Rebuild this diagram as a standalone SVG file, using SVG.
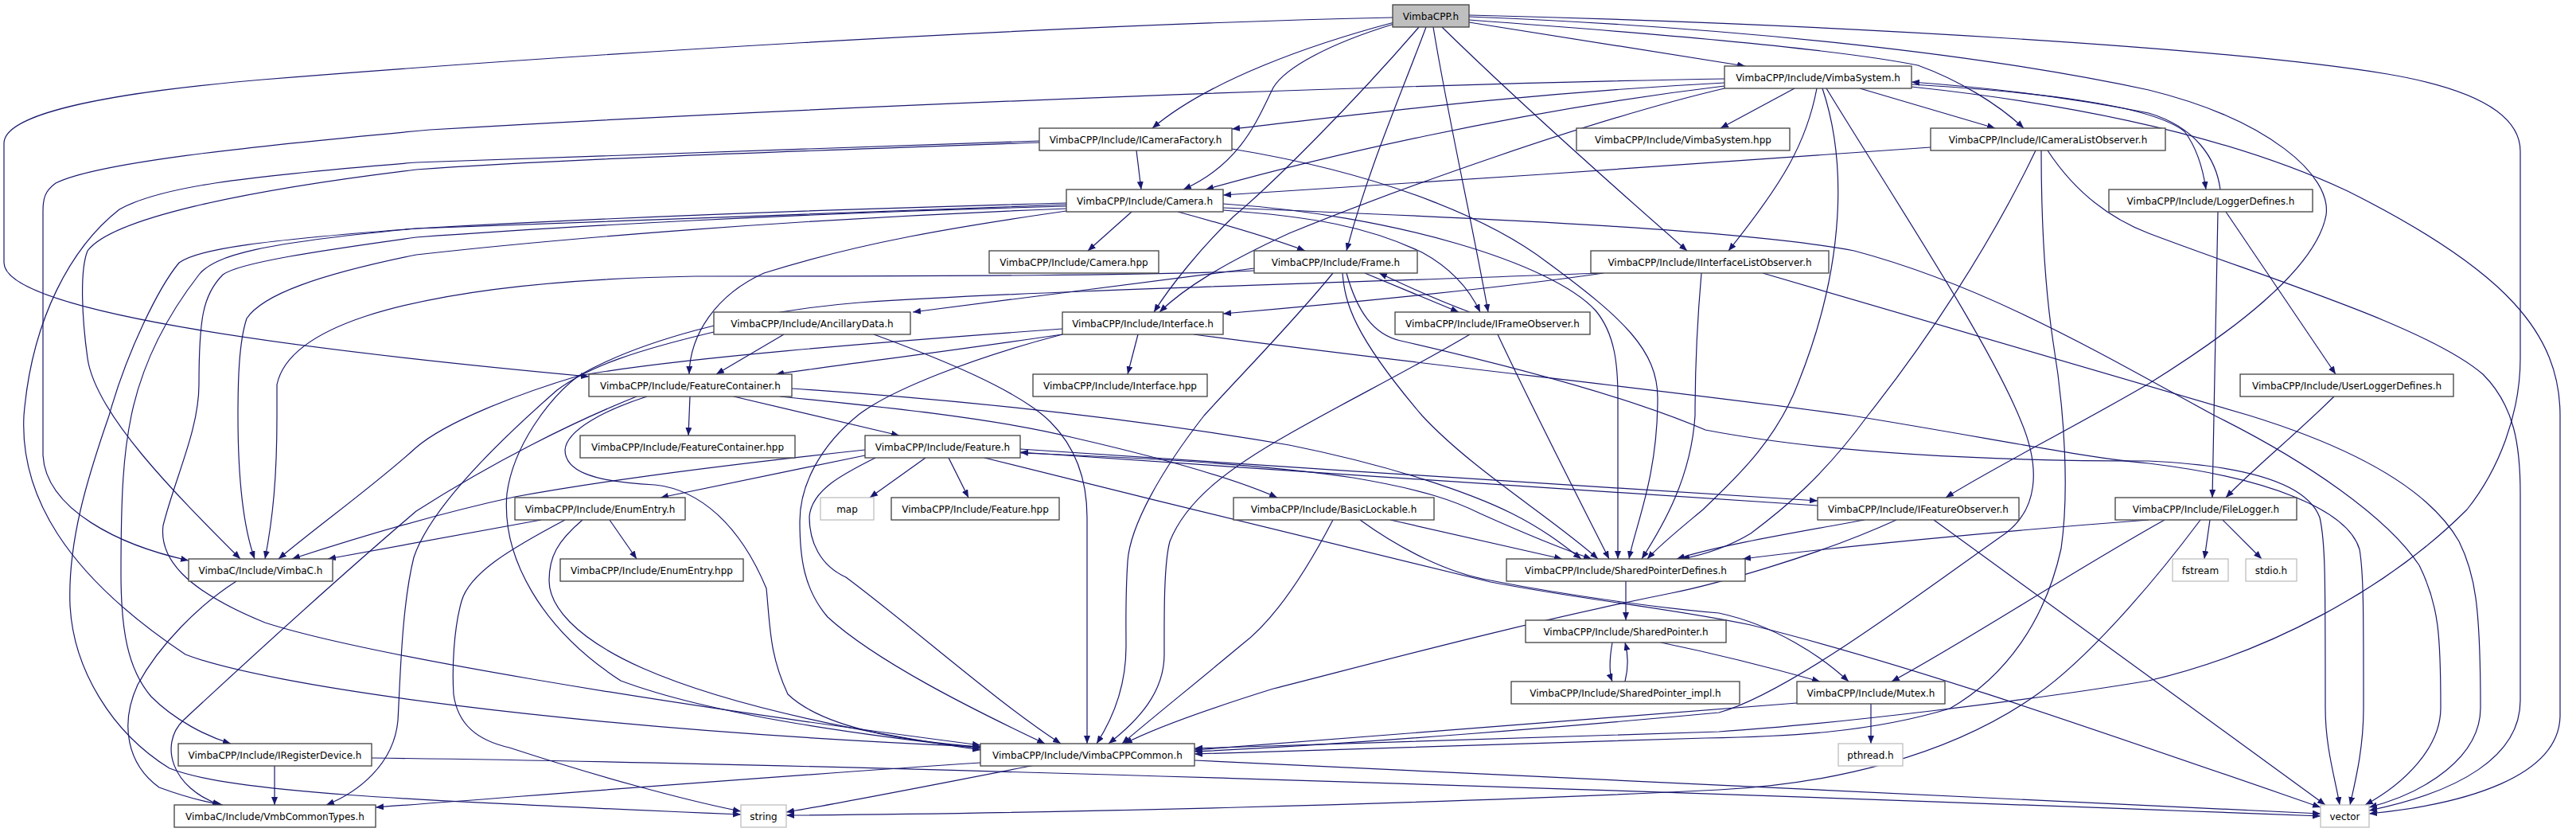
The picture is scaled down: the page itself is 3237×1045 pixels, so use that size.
<svg xmlns="http://www.w3.org/2000/svg" width="3237" height="1045" viewBox="0 0 3237 1045">
<style>
.e{fill:none;stroke:#191970;stroke-width:1.2;marker-end:url(#ah)}
.n rect{fill:#fff;stroke:#404040;stroke-width:1.3}
.x rect{fill:#fff;stroke:#bfbfbf;stroke-width:1.3}
.r rect{fill:#bfbfbf;stroke:#404040;stroke-width:1.3}
text{font-family:"DejaVu Sans","Liberation Sans",sans-serif;font-size:12px;fill:#000;text-anchor:middle}
</style>
<defs>
<marker id="ah" viewBox="0 0 10 8" refX="10" refY="4" markerWidth="10" markerHeight="8" orient="auto" markerUnits="userSpaceOnUse"><path d="M0,0L10,4L0,8z" fill="#191970"/></marker>
</defs>
<rect width="3237" height="1045" fill="#fff"/>
<g id="connectors">
<path class="e" d="M1750,22 C1300,32 700,70 330,100 C120,118 5,145 5,180 L5,330 C5,390 350,437 740,473"/>
<path class="e" d="M1752,28 C1650,55 1520,100 1448,161"/>
<path class="e" d="M1752,30 C1670,55 1615,85 1600,110 C1580,150 1560,205 1487,238"/>
<path class="e" d="M1783,34 C1700,130 1600,230 1550,272 C1510,310 1470,360 1450,392"/>
<path class="e" d="M1792,34 C1760,120 1720,210 1692,315"/>
<path class="e" d="M1801,34 C1820,150 1850,280 1870,392"/>
<path class="e" d="M1812,34 C1900,120 2000,210 2120,315"/>
<path class="e" d="M1846,28 L2193,83"/>
<path class="e" d="M1846,25 C2050,40 2300,60 2410,82 C2460,100 2510,130 2543,161"/>
<path class="e" d="M1846,21 C2200,35 2500,70 2700,113 C2850,150 2930,220 2923,270 C2910,340 2800,420 2700,482 C2600,540 2500,590 2445,625"/>
<path class="e" d="M1846,19 C2300,30 2800,60 3000,93 C3100,110 3167,140 3167,190 L3167,450 C3167,520 3140,590 3100,640 C3000,740 2850,820 2700,855 C2550,880 2300,910 2160,919 L1501,940"/>
<path class="e" d="M2167,99 C1800,105 1100,130 540,163 C300,185 120,205 70,230 C56,240 54,250 54,265 L54,572 C58,640 150,685 237,704"/>
<path class="e" d="M2167,104 C1900,118 1700,145 1548,162"/>
<path class="e" d="M2167,108 C1900,140 1650,200 1515,238"/>
<path class="e" d="M2167,111 C2000,150 1750,240 1620,293 C1540,330 1490,360 1457,392"/>
<path class="e" d="M2255,111 L2162,161"/>
<path class="e" d="M2283,111 C2270,180 2240,230 2172,315"/>
<path class="e" d="M2337,111 L2507,161"/>
<path class="e" d="M2402,106 C2550,115 2700,130 2745,165 C2760,185 2768,210 2772,238"/>
<path class="e" d="M2790,238 C2785,200 2760,160 2700,142 C2600,122 2500,110 2402,103"/>
<path class="e" d="M2402,109 C2600,130 2800,170 2950,240 C3150,340 3217,420 3217,522 L3217,900 C3215,975 3100,1010 2977,1022"/>
<path class="e" d="M2290,111 C2320,200 2320,330 2260,480 C2230,560 2170,610 2140,640 C2110,665 2085,685 2070,702"/>
<path class="e" d="M2295,111 C2380,250 2500,430 2540,530 C2565,590 2560,640 2520,670 C2420,740 2250,870 2160,895 C2000,910 1700,935 1501,944"/>
<path class="e" d="M1428,189 L1434,238"/>
<path class="e" d="M1306,177 C1000,186 700,196 523,204 C300,222 200,235 150,263 C90,310 40,400 30,522 C25,620 80,720 233,822 C330,860 700,915 1232,938"/>
<path class="e" d="M1306,179 C1000,190 700,200 523,213 C300,240 140,275 110,315 C100,340 103,400 110,450 C120,520 220,620 302,702"/>
<path class="e" d="M1548,187 C1750,220 1880,280 1945,330 C2040,400 2083,440 2083,500 C2083,600 2055,660 2047,702"/>
<path class="e" d="M1537,256 C1750,270 1950,330 2005,390 C2030,420 2033,460 2033,500 L2033,702"/>
<path class="e" d="M1537,261 C1900,275 2200,290 2330,315 C2500,360 2650,450 2783,522 C2900,580 3000,650 3040,710 C3065,760 3067,800 3067,889 C3067,940 3020,985 2972,1011"/>
<path class="e" d="M2573,189 C2600,230 2640,270 2700,293 C2850,350 3050,410 3120,470 C3160,510 3167,560 3167,620 L3167,880 C3167,950 3090,995 2977,1018"/>
<path class="e" d="M2215,343 C2450,410 2650,470 2827,522 C2950,560 3050,610 3090,680 C3110,720 3117,760 3117,889 C3117,950 3050,995 2977,1014"/>
<path class="e" d="M1692,343 C1705,390 1725,420 1760,428 C1900,460 2050,500 2143,540 C2300,570 2500,579 2700,579 C2830,585 2900,610 2915,650 C2922,680 2922,720 2922,889 C2922,940 2935,980 2940,1011"/>
<path class="e" d="M1500,420 C1800,460 2100,490 2327,522 C2500,550 2620,575 2700,582 C2850,600 2950,640 2965,690 C2970,720 2970,760 2970,889 C2970,940 2960,980 2953,1011"/>
<path class="e" d="M1237,575 C1450,628 1700,690 1873,731 C2000,755 2100,764 2200,785 C2400,835 2600,905 2916,1014"/>
<path class="e" d="M2430,653 L2922,1011"/>
<path class="e" d="M1501,955 C2000,978 2600,1008 2916,1022"/>
<path class="e" d="M467,952 C1000,958 2000,990 2916,1025"/>
<path class="e" d="M1301,961 C1150,990 1050,1010 988,1020"/>
<path class="e" d="M2765,653 C2700,740 2620,830 2560,872 C2450,950 2300,985 2160,992 C1800,1010 1300,1022 988,1024"/>
<path class="e" d="M2777,653 L2770,702"/>
<path class="e" d="M2793,653 L2842,702"/>
<path class="e" d="M2787,266 L2780,625"/>
<path class="e" d="M2797,266 L2935,470"/>
<path class="e" d="M2933,498 C2880,550 2830,590 2797,625"/>
<path class="e" d="M2043,730 L2043,779"/>
<path class="e" d="M2026,807 C2022,830 2022,845 2026,856"/>
<path class="e" d="M2042,856 C2046,840 2046,822 2042,807"/>
<path class="e" d="M2087,807 C2160,822 2230,840 2287,856"/>
<path class="e" d="M1709,653 C1760,690 1820,720 1873,729 C1980,750 2100,765 2160,770 C2230,785 2290,825 2323,856"/>
<path class="e" d="M2351,884 L2351,934"/>
<path class="e" d="M2258,883 L1501,942"/>
<path class="e" d="M2565,189 C2565,260 2568,350 2580,430 C2595,520 2600,620 2590,689 C2570,780 2520,850 2450,890 C2350,920 2250,925 2143,927 L1501,947"/>
<path class="e" d="M2383,653 C2280,700 2150,735 2100,745 C1900,785 1700,840 1600,865 C1520,890 1450,915 1413,934"/>
<path class="e" d="M1675,653 C1640,720 1600,780 1560,810 C1500,860 1450,900 1410,934"/>
<path class="e" d="M1847,420 C1780,460 1690,505 1620,545 C1540,590 1490,630 1470,680 C1462,710 1463,780 1463,822 C1463,870 1430,905 1393,934"/>
<path class="e" d="M1675,343 C1620,410 1560,470 1513,522 C1460,590 1420,660 1417,705 C1414,750 1415,780 1415,812 C1415,860 1400,900 1378,934"/>
<path class="e" d="M1098,420 C1180,450 1280,490 1320,530 C1350,560 1366,600 1366,650 L1366,934"/>
<path class="e" d="M1335,420 C1220,450 1120,490 1080,520 C1030,560 1005,610 1005,655 C1005,700 1010,740 1040,775 C1100,830 1220,890 1313,934"/>
<path class="e" d="M1100,575 C1060,595 1020,615 1017,649 C1017,680 1030,710 1063,725 C1150,790 1250,880 1333,934"/>
<path class="e" d="M813,498 C760,515 712,540 710,565 C710,590 740,605 823,609 C880,615 930,660 963,739 C968,790 967,822 990,872 C1030,910 1120,930 1232,938"/>
<path class="e" d="M732,653 C700,680 690,700 690,729 C690,760 720,800 807,839 C900,880 1050,915 1232,942"/>
<path class="e" d="M1340,259 C1000,268 700,285 523,298 C400,315 300,330 280,345 C255,370 250,400 250,483 C250,540 220,600 205,660 C200,700 230,740 333,782 C450,820 800,880 1232,936"/>
<path class="e" d="M2010,343 C1700,355 1300,365 1080,380 C930,392 800,430 727,472 C690,500 645,560 637,620 C630,700 680,790 780,855 C900,900 1100,925 1232,940"/>
<path class="e" d="M1335,420 C1200,440 1080,455 975,470"/>
<path class="e" d="M1340,265 C1200,285 1080,305 960,343 C900,370 867,420 866,470"/>
<path class="e" d="M985,420 L900,470"/>
<path class="e" d="M867,498 L865,547"/>
<path class="e" d="M922,498 L1130,547"/>
<path class="e" d="M980,498 C1100,510 1250,525 1350,550 C1480,580 1560,605 1605,625"/>
<path class="e" d="M995,488 C1250,505 1450,530 1620,559 C1750,585 1850,620 1900,645 C1940,665 1965,685 1987,702"/>
<path class="e" d="M800,498 C720,530 620,580 523,642 C420,730 300,840 230,905 C200,935 215,990 277,1011"/>
<path class="e" d="M766,653 L800,702"/>
<path class="e" d="M680,653 L412,702"/>
<path class="e" d="M710,653 C640,690 590,720 580,755 C570,790 568,840 570,872 C575,910 600,930 640,939 C750,975 860,1005 931,1019"/>
<path class="e" d="M1340,255 C1000,264 700,277 523,287 C330,302 250,312 225,330 C200,360 160,440 137,522 C110,600 85,680 88,760 C92,840 140,920 213,965 C290,995 500,1005 931,1023"/>
<path class="e" d="M1340,257 C1000,267 700,279 523,287 C330,305 270,320 250,345 C215,390 180,450 165,522 C155,570 152,620 152,720 C152,790 160,840 190,875 C220,905 260,925 290,934"/>
<path class="e" d="M1340,262 C1000,275 700,300 523,320 C400,345 330,370 310,400 C300,430 299,480 299,522 C299,600 305,660 320,702"/>
<path class="e" d="M1576,340 C1450,346 1200,347 873,347 C700,350 560,365 460,397 C390,420 355,450 348,483 L348,522 C348,600 343,650 333,702"/>
<path class="e" d="M1335,413 C1100,430 850,450 727,472 C650,495 560,530 523,562 C470,610 400,660 350,702"/>
<path class="e" d="M1087,565 C900,585 750,605 647,624 C550,645 450,675 367,702"/>
<path class="e" d="M897,417 C800,440 740,460 700,490 C620,560 540,640 520,700 C505,760 503,850 500,905 C495,960 450,995 410,1011"/>
<path class="e" d="M297,730 C250,760 200,810 173,860 C150,910 160,960 200,989 C230,1000 255,1007 280,1011"/>
<path class="e" d="M345,961 L345,1011"/>
<path class="e" d="M1232,958 C900,980 600,1005 472,1014"/>
<path class="e" d="M1422,266 L1367,315"/>
<path class="e" d="M1480,266 C1550,285 1600,300 1640,315"/>
<path class="e" d="M1537,264 C1650,272 1720,285 1787,317 C1820,335 1845,360 1860,392"/>
<path class="e" d="M1715,343 L1833,392"/>
<path class="e" d="M1847,392 C1800,375 1770,360 1733,343"/>
<path class="e" d="M1576,337 L1147,392"/>
<path class="e" d="M1687,343 C1690,380 1700,420 1787,522 C1850,590 1950,650 2008,702"/>
<path class="e" d="M1882,420 C1910,480 1960,580 2022,702"/>
<path class="e" d="M1747,653 L1963,702"/>
<path class="e" d="M1282,569 C1450,575 1600,585 1700,600 C1790,615 1830,630 1860,645 C1920,672 1965,690 2000,702"/>
<path class="e" d="M2138,343 C2133,400 2130,460 2130,522 C2125,600 2090,660 2063,702"/>
<path class="e" d="M2558,189 C2500,310 2420,430 2347,522 C2290,600 2240,640 2200,670 C2170,688 2140,697 2113,702"/>
<path class="e" d="M2343,653 C2250,670 2160,685 2107,702"/>
<path class="e" d="M2720,653 C2600,720 2480,800 2377,856"/>
<path class="e" d="M2700,653 C2500,668 2300,688 2190,702"/>
<path class="e" d="M1087,572 C1000,590 900,610 830,625"/>
<path class="e" d="M1163,575 L1093,625"/>
<path class="e" d="M1192,575 L1217,625"/>
<path class="e" d="M1282,564 C1600,585 2000,612 2284,629"/>
<path class="e" d="M2284,635 C2000,617 1600,590 1282,568"/>
<path class="e" d="M1430,420 L1417,470"/>
<path class="e" d="M2015,343 C1900,360 1700,380 1537,394"/>
<path class="e" d="M2426,185 C2200,200 1800,230 1537,245"/>
</g>
<g id="n0" class="r"><rect x="1750" y="6" width="96" height="28"/><text x="1798" y="24.5">VimbaCPP.h</text></g>
<g id="n1" class="n"><rect x="2167" y="83" width="235" height="28"/><text x="2284.5" y="101.5">VimbaCPP/Include/VimbaSystem.h</text></g>
<g id="n2" class="n"><rect x="1306" y="161" width="242" height="28"/><text x="1427" y="179.5">VimbaCPP/Include/ICameraFactory.h</text></g>
<g id="n3" class="n"><rect x="1981" y="161" width="268" height="28"/><text x="2115" y="179.5">VimbaCPP/Include/VimbaSystem.hpp</text></g>
<g id="n4" class="n"><rect x="2426" y="161" width="295" height="28"/><text x="2573.5" y="179.5">VimbaCPP/Include/ICameraListObserver.h</text></g>
<g id="n5" class="n"><rect x="1340" y="238" width="197" height="28"/><text x="1438.5" y="256.5">VimbaCPP/Include/Camera.h</text></g>
<g id="n6" class="n"><rect x="2650" y="238" width="256" height="28"/><text x="2778" y="256.5">VimbaCPP/Include/LoggerDefines.h</text></g>
<g id="n7" class="n"><rect x="1243" y="315" width="213" height="28"/><text x="1349.5" y="333.5">VimbaCPP/Include/Camera.hpp</text></g>
<g id="n8" class="n"><rect x="1576" y="315" width="205" height="28"/><text x="1678.5" y="333.5">VimbaCPP/Include/Frame.h</text></g>
<g id="n9" class="n"><rect x="1999" y="315" width="299" height="28"/><text x="2148.5" y="333.5">VimbaCPP/Include/IInterfaceListObserver.h</text></g>
<g id="n10" class="n"><rect x="897" y="392" width="247" height="28"/><text x="1020.5" y="410.5">VimbaCPP/Include/AncillaryData.h</text></g>
<g id="n11" class="n"><rect x="1335" y="392" width="202" height="28"/><text x="1436" y="410.5">VimbaCPP/Include/Interface.h</text></g>
<g id="n12" class="n"><rect x="1753" y="392" width="245" height="28"/><text x="1875.5" y="410.5">VimbaCPP/Include/IFrameObserver.h</text></g>
<g id="n13" class="n"><rect x="740" y="470" width="255" height="28"/><text x="867.5" y="488.5">VimbaCPP/Include/FeatureContainer.h</text></g>
<g id="n14" class="n"><rect x="1298" y="470" width="219" height="28"/><text x="1407.5" y="488.5">VimbaCPP/Include/Interface.hpp</text></g>
<g id="n15" class="n"><rect x="2815" y="470" width="268" height="28"/><text x="2949" y="488.5">VimbaCPP/Include/UserLoggerDefines.h</text></g>
<g id="n16" class="n"><rect x="729" y="547" width="270" height="28"/><text x="864" y="565.5">VimbaCPP/Include/FeatureContainer.hpp</text></g>
<g id="n17" class="n"><rect x="1087" y="547" width="195" height="28"/><text x="1184.5" y="565.5">VimbaCPP/Include/Feature.h</text></g>
<g id="n18" class="n"><rect x="647" y="625" width="214" height="28"/><text x="754" y="643.5">VimbaCPP/Include/EnumEntry.h</text></g>
<g id="n19" class="x"><rect x="1031" y="625" width="67" height="28"/><text x="1064.5" y="643.5">map</text></g>
<g id="n20" class="n"><rect x="1120" y="625" width="211" height="28"/><text x="1225.5" y="643.5">VimbaCPP/Include/Feature.hpp</text></g>
<g id="n21" class="n"><rect x="1550" y="625" width="252" height="28"/><text x="1676" y="643.5">VimbaCPP/Include/BasicLockable.h</text></g>
<g id="n22" class="n"><rect x="2284" y="625" width="253" height="28"/><text x="2410.5" y="643.5">VimbaCPP/Include/IFeatureObserver.h</text></g>
<g id="n23" class="n"><rect x="2658" y="625" width="228" height="28"/><text x="2772" y="643.5">VimbaCPP/Include/FileLogger.h</text></g>
<g id="n24" class="n"><rect x="237" y="702" width="181" height="28"/><text x="327.5" y="720.5">VimbaC/Include/VimbaC.h</text></g>
<g id="n25" class="n"><rect x="704" y="702" width="230" height="28"/><text x="819" y="720.5">VimbaCPP/Include/EnumEntry.hpp</text></g>
<g id="n26" class="n"><rect x="1893" y="702" width="300" height="28"/><text x="2043" y="720.5">VimbaCPP/Include/SharedPointerDefines.h</text></g>
<g id="n27" class="x"><rect x="2730" y="702" width="70" height="28"/><text x="2765" y="720.5">fstream</text></g>
<g id="n28" class="x"><rect x="2822" y="702" width="64" height="28"/><text x="2854" y="720.5">stdio.h</text></g>
<g id="n29" class="n"><rect x="1917" y="779" width="252" height="28"/><text x="2043" y="797.5">VimbaCPP/Include/SharedPointer.h</text></g>
<g id="n30" class="n"><rect x="1899" y="856" width="287" height="28"/><text x="2042.5" y="874.5">VimbaCPP/Include/SharedPointer_impl.h</text></g>
<g id="n31" class="n"><rect x="2258" y="856" width="186" height="28"/><text x="2351" y="874.5">VimbaCPP/Include/Mutex.h</text></g>
<g id="n32" class="n"><rect x="224" y="934" width="243" height="28"/><text x="345.5" y="952.5">VimbaCPP/Include/IRegisterDevice.h</text></g>
<g id="n33" class="n"><rect x="1232" y="934" width="269" height="28"/><text x="1366.5" y="952.5">VimbaCPP/Include/VimbaCPPCommon.h</text></g>
<g id="n34" class="x"><rect x="2310" y="934" width="81" height="28"/><text x="2350.5" y="952.5">pthread.h</text></g>
<g id="n35" class="n"><rect x="219" y="1011" width="253" height="28"/><text x="345.5" y="1029.5">VimbaC/Include/VmbCommonTypes.h</text></g>
<g id="n36" class="x"><rect x="931" y="1011" width="57" height="28"/><text x="959.5" y="1029.5">string</text></g>
<g id="n37" class="x"><rect x="2916" y="1011" width="61" height="28"/><text x="2946.5" y="1029.5">vector</text></g>
</svg>
